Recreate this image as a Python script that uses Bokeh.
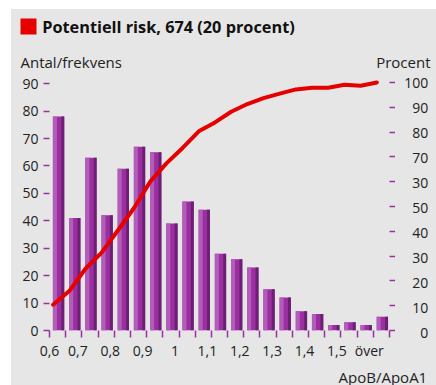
from bokeh.plotting import figure
from bokeh.layouts import column, row
from bokeh.models import Range1d, LinearAxis, FixedTicker, ColumnDataSource
from bokeh.core.properties import value
from bokeh.embed import file_html
from bokeh.resources import INLINE

# ---------------- data ----------------
bins = list(range(21))
counts = [78, 41, 63, 42, 59, 67, 65, 39, 47, 44, 28, 26, 23, 15, 12, 7, 6, 2, 3, 2, 5]
cum_pct = [10.4, 15.9, 24.9, 31.4, 40.3, 49.4, 60.0, 67.4, 73.6, 80.3, 83.9,
           88.2, 91.3, 93.7, 95.5, 97.2, 97.9, 97.9, 99.1, 98.7, 100.0]
x_labels = ["0,6", "0,7", "0,8", "0,9", "1", "1,1", "1,2", "1,3", "1,4", "1,5", "över"]
left_ticks = [0, 10, 20, 30, 40, 50, 60, 70, 80, 90]
right_ticks = [0, 10, 20, 30, 40, 50, 60, 70, 80, 90, 100]
right_labels = ["0", "10", "20", "30", "40", "50", "30", "70", "80", "90", "100"]
title_text = "Potentiell risk, 674 (20 procent)"
left_title = "Antal/frekvens"
right_title = "Procent"
x_title = "ApoB/ApoA1"

# ---------------- style ----------------
BG = "#e6e6e6"
PURPLE = "#9b2fa0"
LIGHT = "#b35dba"
DARK = "#6c2073"
RED = "#e60000"
TXT = "#222222"
FONT = "Open Sans"

TOTAL_W = 425
HEAD_H = 61
MAIN_H = 292
FOOT_H = 23
MAIN_W = 386
OVERLAP = 2
B_LEFT, B_RIGHT, B_TOP, B_BOTTOM = 38, 8, 8, 30
Y_END = 91.9
PCT_END = 101.6


def bare(width, height, xr, yr):
    f = figure(width=width, height=height, output_backend="svg", toolbar_location=None,
               x_range=xr, y_range=yr, min_border=0,
               background_fill_color=BG, border_fill_color=BG, outline_line_color=None)
    f.axis.visible = False
    f.grid.visible = False
    return f


def txt(f, x, y, s, align, size="15px", style="normal", color=TXT):
    f.text(x=[x], y=[y], text=[s], text_align=align, text_baseline="middle",
           text_font=value(FONT), text_font_size=value(size), text_font_style=style,
           text_color=color)


# ---------------- header ----------------
head = bare(TOTAL_W, HEAD_H, Range1d(0, TOTAL_W), Range1d(0, HEAD_H))
head.quad(left=[9], right=[25], bottom=[36], top=[52], fill_color=RED, line_color=None)
txt(head, 30.7, 43.5, title_text, "left", size="16.3px", style="bold", color="#111111")
txt(head, 9, 9, left_title, "left")
txt(head, 419, 9, right_title, "right")

# ---------------- main chart ----------------
p = figure(width=MAIN_W, height=MAIN_H, output_backend="svg", toolbar_location=None,
           x_range=Range1d(0, 21), y_range=Range1d(0, Y_END),
           min_border_left=B_LEFT, min_border_right=B_RIGHT,
           min_border_top=B_TOP, min_border_bottom=B_BOTTOM,
           background_fill_color=BG, border_fill_color=BG, outline_line_color=None)
p.extra_y_ranges = {"pct": Range1d(0, PCT_END)}
p.grid.visible = False

src = ColumnDataSource(dict(
    body=[b + 0.56 for b in bins],
    left=[b + 0.335 for b in bins],
    right=[b + 0.82 for b in bins],
    top=counts))
p.vbar(x="body", top="top", width=0.70, bottom=0, source=src, fill_color=PURPLE, line_color=None)
p.vbar(x="left", top="top", width=0.25, bottom=0, source=src, fill_color=LIGHT, line_color=None)
p.vbar(x="right", top="top", width=0.18, bottom=0, source=src, fill_color=DARK, line_color=None)

p.line(x=[b + 0.22 for b in bins], y=cum_pct, y_range_name="pct",
       line_color=RED, line_width=4, line_join="round", line_cap="round")

xax = p.xaxis[0]
xt = [0.0] + [2 * k - 0.25 for k in range(1, len(x_labels))]
xax.ticker = FixedTicker(ticks=xt, minor_ticks=list(range(22)))
xax.major_label_overrides = {t: lab for t, lab in zip(xt, x_labels)}
xax.axis_line_color = None
xax.major_tick_line_color = None
xax.major_tick_in = 0
xax.major_tick_out = 0
xax.minor_tick_in = 0
xax.minor_tick_out = 7
xax.minor_tick_line_color = PURPLE
xax.minor_tick_line_width = 1.5
xax.major_label_standoff = 3
xax.major_label_text_font = FONT
xax.major_label_text_font_size = "14px"
xax.major_label_text_color = TXT

yax = p.yaxis[0]
yax.ticker = FixedTicker(ticks=left_ticks)
yax.axis_line_color = None
yax.major_tick_in = 0
yax.major_tick_out = 6
yax.major_tick_line_color = PURPLE
yax.major_tick_line_width = 1.5
yax.minor_tick_line_color = None
yax.major_label_standoff = 5
yax.major_label_text_font = FONT
yax.major_label_text_font_size = "14px"
yax.major_label_text_color = TXT

rax = LinearAxis(y_range_name="pct", ticker=FixedTicker(ticks=right_ticks))
rax.axis_line_color = None
rax.major_tick_in = 0
rax.major_tick_out = 7
rax.major_tick_line_color = PURPLE
rax.major_tick_line_width = 1.5
rax.minor_tick_line_color = None
rax.major_label_standoff = 0
rax.major_label_text_font_size = "0px"
rax.major_label_text_color = None
p.add_layout(rax, "right")

# ---------------- right-hand tick labels (right aligned) ----------------
frame_h = MAIN_H - B_TOP - B_BOTTOM
px_per_pct = frame_h / PCT_END
side_w = TOTAL_W - MAIN_W + OVERLAP
side = bare(side_w, MAIN_H, Range1d(0, side_w),
            Range1d(-B_BOTTOM / px_per_pct, PCT_END + B_TOP / px_per_pct))
side.text(x=[30.7 + OVERLAP] * len(right_ticks), y=right_ticks, text=right_labels,
          text_align="right", text_baseline="middle", text_font=value(FONT),
          text_font_size=value("14px"), text_color=TXT)

# ---------------- footer ----------------
foot = bare(TOTAL_W, FOOT_H, Range1d(0, TOTAL_W), Range1d(0, FOOT_H))
txt(foot, 415.7, 9, x_title, "right")

side_col = column(side, spacing=0)
side_col.margin = (0, 0, 0, -OVERLAP)
body = row(p, side_col, spacing=0)
layout = column(head, body, foot, spacing=0)
for box in (side_col, body, layout):
    box.styles = {"background-color": BG}
layout.margin = (9, 0, 0, 11)

open("out.html", "w").write(file_html(layout, INLINE))
